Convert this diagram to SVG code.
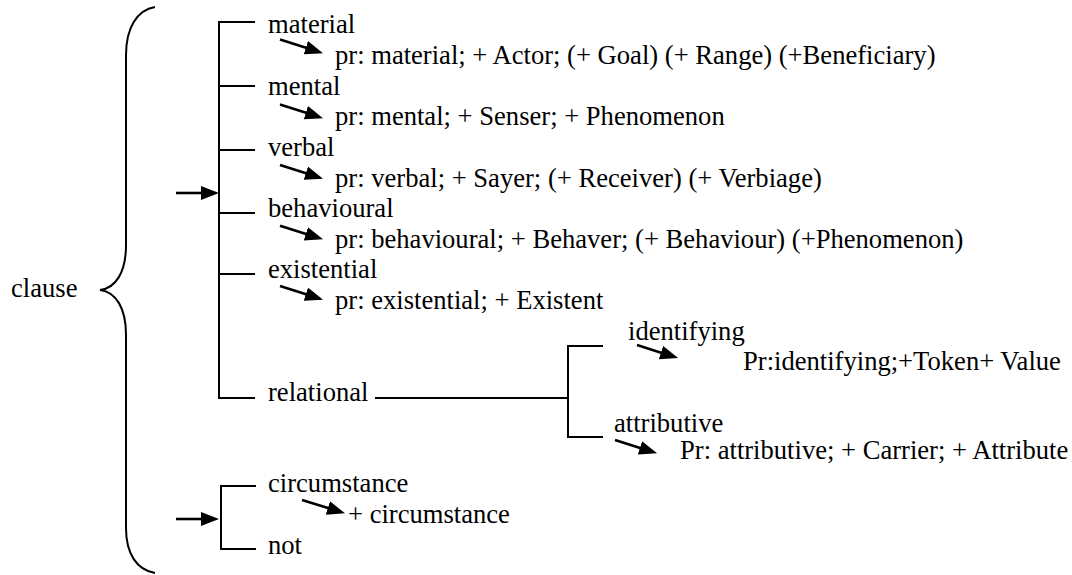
<svg xmlns="http://www.w3.org/2000/svg" width="1072" height="575" viewBox="0 0 1072 575">
<style>
text{font-family:'Liberation Serif','Times New Roman',serif;font-size:26.6px;fill:#000}
.ln{stroke:#000;stroke-width:2;fill:none}
.ar{stroke:#000;stroke-width:2.6;fill:none;marker-end:url(#ah)}
</style>
<defs>
<marker id="ah" markerUnits="userSpaceOnUse" markerWidth="19" markerHeight="15" refX="1" refY="7" orient="auto">
<path d="M0,0 L18,7 L0,14 z" fill="#000"/>
</marker>
</defs>
<rect width="1072" height="575" fill="#fff"/>
<g id="connectors">
<path class="ln" d="M155,7 C137,10 126,28 126,55 L126,245 C126,272 116,288 100,290 C116,292 126,308 126,335 L126,528 C126,554 137,570 155,573"/>
<path class="ln" d="M255,22 H219 V398 H255 M219,86 H255 M219,150 H255 M219,213 H255 M219,274 H255"/>
<path class="ln" d="M256,486 H221 V549 H256"/>
<path class="ln" d="M375,398 H568 M603,346 H568 V437 H603"/>
<line class="ar" x1="176" y1="193" x2="202" y2="193"/>
<line class="ar" x1="176" y1="519" x2="202" y2="519"/>
<line class="ar" x1="280" y1="39.5" x2="306.8" y2="48"/>
<line class="ar" x1="280" y1="104.5" x2="306.8" y2="113"/>
<line class="ar" x1="280" y1="165" x2="306.8" y2="173.5"/>
<line class="ar" x1="280" y1="225.7" x2="306.8" y2="234.2"/>
<line class="ar" x1="280" y1="286" x2="306.8" y2="294.5"/>
<line class="ar" x1="302" y1="500" x2="328.8" y2="508.3"/>
<line class="ar" x1="637" y1="345" x2="661.9" y2="352.9"/>
<line class="ar" x1="615" y1="440" x2="640.9" y2="448.2"/>
</g>
<g id="clause"><text x="11" y="296.5">clause</text></g>
<g id="material"><text x="268" y="33">material</text><text x="335" y="64">pr: material; + Actor; (+ Goal) (+ Range) (+Beneficiary)</text></g>
<g id="mental"><text x="268" y="95">mental</text><text x="335" y="125">pr: mental; + Senser; + Phenomenon</text></g>
<g id="verbal"><text x="268" y="156">verbal</text><text x="335" y="187">pr: verbal; + Sayer; (+ Receiver) (+ Verbiage)</text></g>
<g id="behavioural"><text x="268" y="217">behavioural</text><text x="335" y="248">pr: behavioural; + Behaver; (+ Behaviour) (+Phenomenon)</text></g>
<g id="existential"><text x="268" y="278">existential</text><text x="335" y="308.5">pr: existential; + Existent</text></g>
<g id="relational"><text x="268" y="400.7">relational</text></g>
<g id="identifying"><text x="628" y="340">identifying</text><text x="743" y="370">Pr:identifying;+Token+ Value</text></g>
<g id="attributive"><text x="614" y="432">attributive</text><text x="680" y="459">Pr: attributive; + Carrier; + Attribute</text></g>
<g id="circumstance"><text x="268" y="491.7">circumstance</text><text x="348" y="522.7">+ circumstance</text></g>
<g id="not"><text x="268" y="554">not</text></g>
</svg>
